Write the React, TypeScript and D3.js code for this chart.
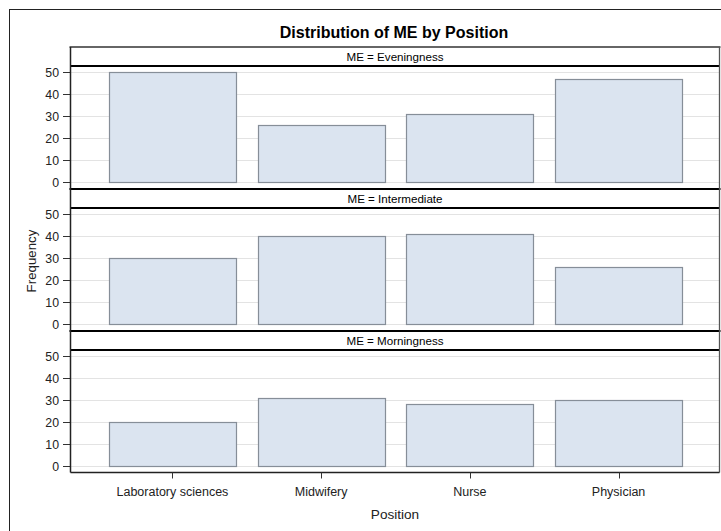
import React from "react";
import * as d3 from "d3";

const positions = ["Laboratory sciences", "Midwifery", "Nurse", "Physician"];
const groups = ["Eveningness", "Intermediate", "Morningness"];
const eveningness = [50, 26, 31, 47];
const intermediate = [30, 40, 41, 26];
const morningness = [20, 31, 28, 30];
const seriesByGroup = [eveningness, intermediate, morningness];
const yTicks = [0, 10, 20, 30, 40, 50];

const W = 721;
const H = 531;
const FONT = "'Liberation Sans', Arial, Helvetica, sans-serif";

export default function App() {
  const left = 70.5;
  const right = 719.5;
  const panelTops = [47, 189, 331];
  const panelH = 142;
  const headerH = 19;

  const x = d3
    .scaleBand<string>()
    .domain(positions)
    .range([71, 720])
    .paddingInner(0.146)
    .paddingOuter(0.255);

  const cx = (p: string) => (x(p) as number) + x.bandwidth() / 2;
  const bottom = panelTops[2] + panelH - 0.5;

  return (
    <svg
      width={W}
      height={H}
      style={{ position: "absolute", left: 0, top: 0, background: "#fff" }}
      fontFamily={FONT}
    >
      <rect x={9.5} y={9.5} width={800} height={800} fill="#fff" stroke="#222" strokeWidth={1} />
      <text x={394} y={38} textAnchor="middle" fontSize={16} fontWeight="bold" fill="#000">
        Distribution of ME by Position
      </text>

      {groups.map((g, gi) => {
        const top = panelTops[gi];
        const values = seriesByGroup[gi];
        const y = d3.scaleLinear().domain([0, 50]).range([top + 135, top + 25]);
        return (
          <g key={g}>
            <rect x={left} y={top} width={right - left} height={panelH} fill="#fff" />
            {yTicks.map((t) => (
              <line
                key={"g" + t}
                x1={left}
                x2={right}
                y1={Math.round(y(t)) + 0.5}
                y2={Math.round(y(t)) + 0.5}
                stroke="#e3e3e3"
                strokeWidth={1}
              />
            ))}
            {positions.map((p, i) => {
              const x0 = Math.round(x(p) as number) + 0.5;
              const y0 = Math.round(y(values[i])) + 0.5;
              const yb = Math.round(y(0)) + 0.5;
              return (
                <rect
                  key={p}
                  x={x0}
                  y={y0}
                  width={Math.round(x.bandwidth())}
                  height={yb - y0}
                  fill="#dbe4f0"
                  stroke="#868e98"
                  strokeWidth={1.2}
                />
              );
            })}
            {/* header strip */}
            <text
              x={(left + right) / 2}
              y={top + 14}
              textAnchor="middle"
              fontSize={11.6}
              fill="#000"
            >
              {"ME = " + g}
            </text>
            <line
              x1={left}
              x2={right}
              y1={top + headerH}
              y2={top + headerH}
              stroke="#000"
              strokeWidth={2}
            />
            <line
              x1={left - 1}
              x2={right + 1}
              y1={top}
              y2={top}
              stroke={gi === 0 ? "#666" : "#000"}
              strokeWidth={2}
            />
            {/* y ticks */}
            {yTicks.map((t) => (
              <g key={"t" + t}>
                <line
                  x1={63}
                  x2={left}
                  y1={Math.round(y(t)) + 0.5}
                  y2={Math.round(y(t)) + 0.5}
                  stroke="#333"
                  strokeWidth={1}
                />
                <text x={59} y={y(t) + 4.5} textAnchor="end" fontSize={12.3} fill="#222">
                  {t}
                </text>
              </g>
            ))}
          </g>
        );
      })}

      {/* frame lines */}
      <line x1={left} x2={left} y1={panelTops[0]} y2={bottom} stroke="#222" strokeWidth={1.5} />
      <line x1={right} x2={right} y1={panelTops[0]} y2={bottom} stroke="#555" strokeWidth={1.3} />
      <line x1={left} x2={right} y1={bottom} y2={bottom} stroke="#222" strokeWidth={1.5} />

      {/* x axis */}
      {positions.map((p) => (
        <g key={"x" + p}>
          <line
            x1={Math.round(cx(p)) + 0.5}
            x2={Math.round(cx(p)) + 0.5}
            y1={bottom}
            y2={bottom + 6}
            stroke="#333"
            strokeWidth={1}
          />
          <text x={cx(p)} y={496} textAnchor="middle" fontSize={12.5} fill="#222">
            {p}
          </text>
        </g>
      ))}
      <text x={395} y={519} textAnchor="middle" fontSize={13.6} fill="#222">
        Position
      </text>
      <text
        transform={`translate(36, 261) rotate(-90)`}
        textAnchor="middle"
        fontSize={13.3}
        fill="#222"
      >
        Frequency
      </text>
    </svg>
  );
}
